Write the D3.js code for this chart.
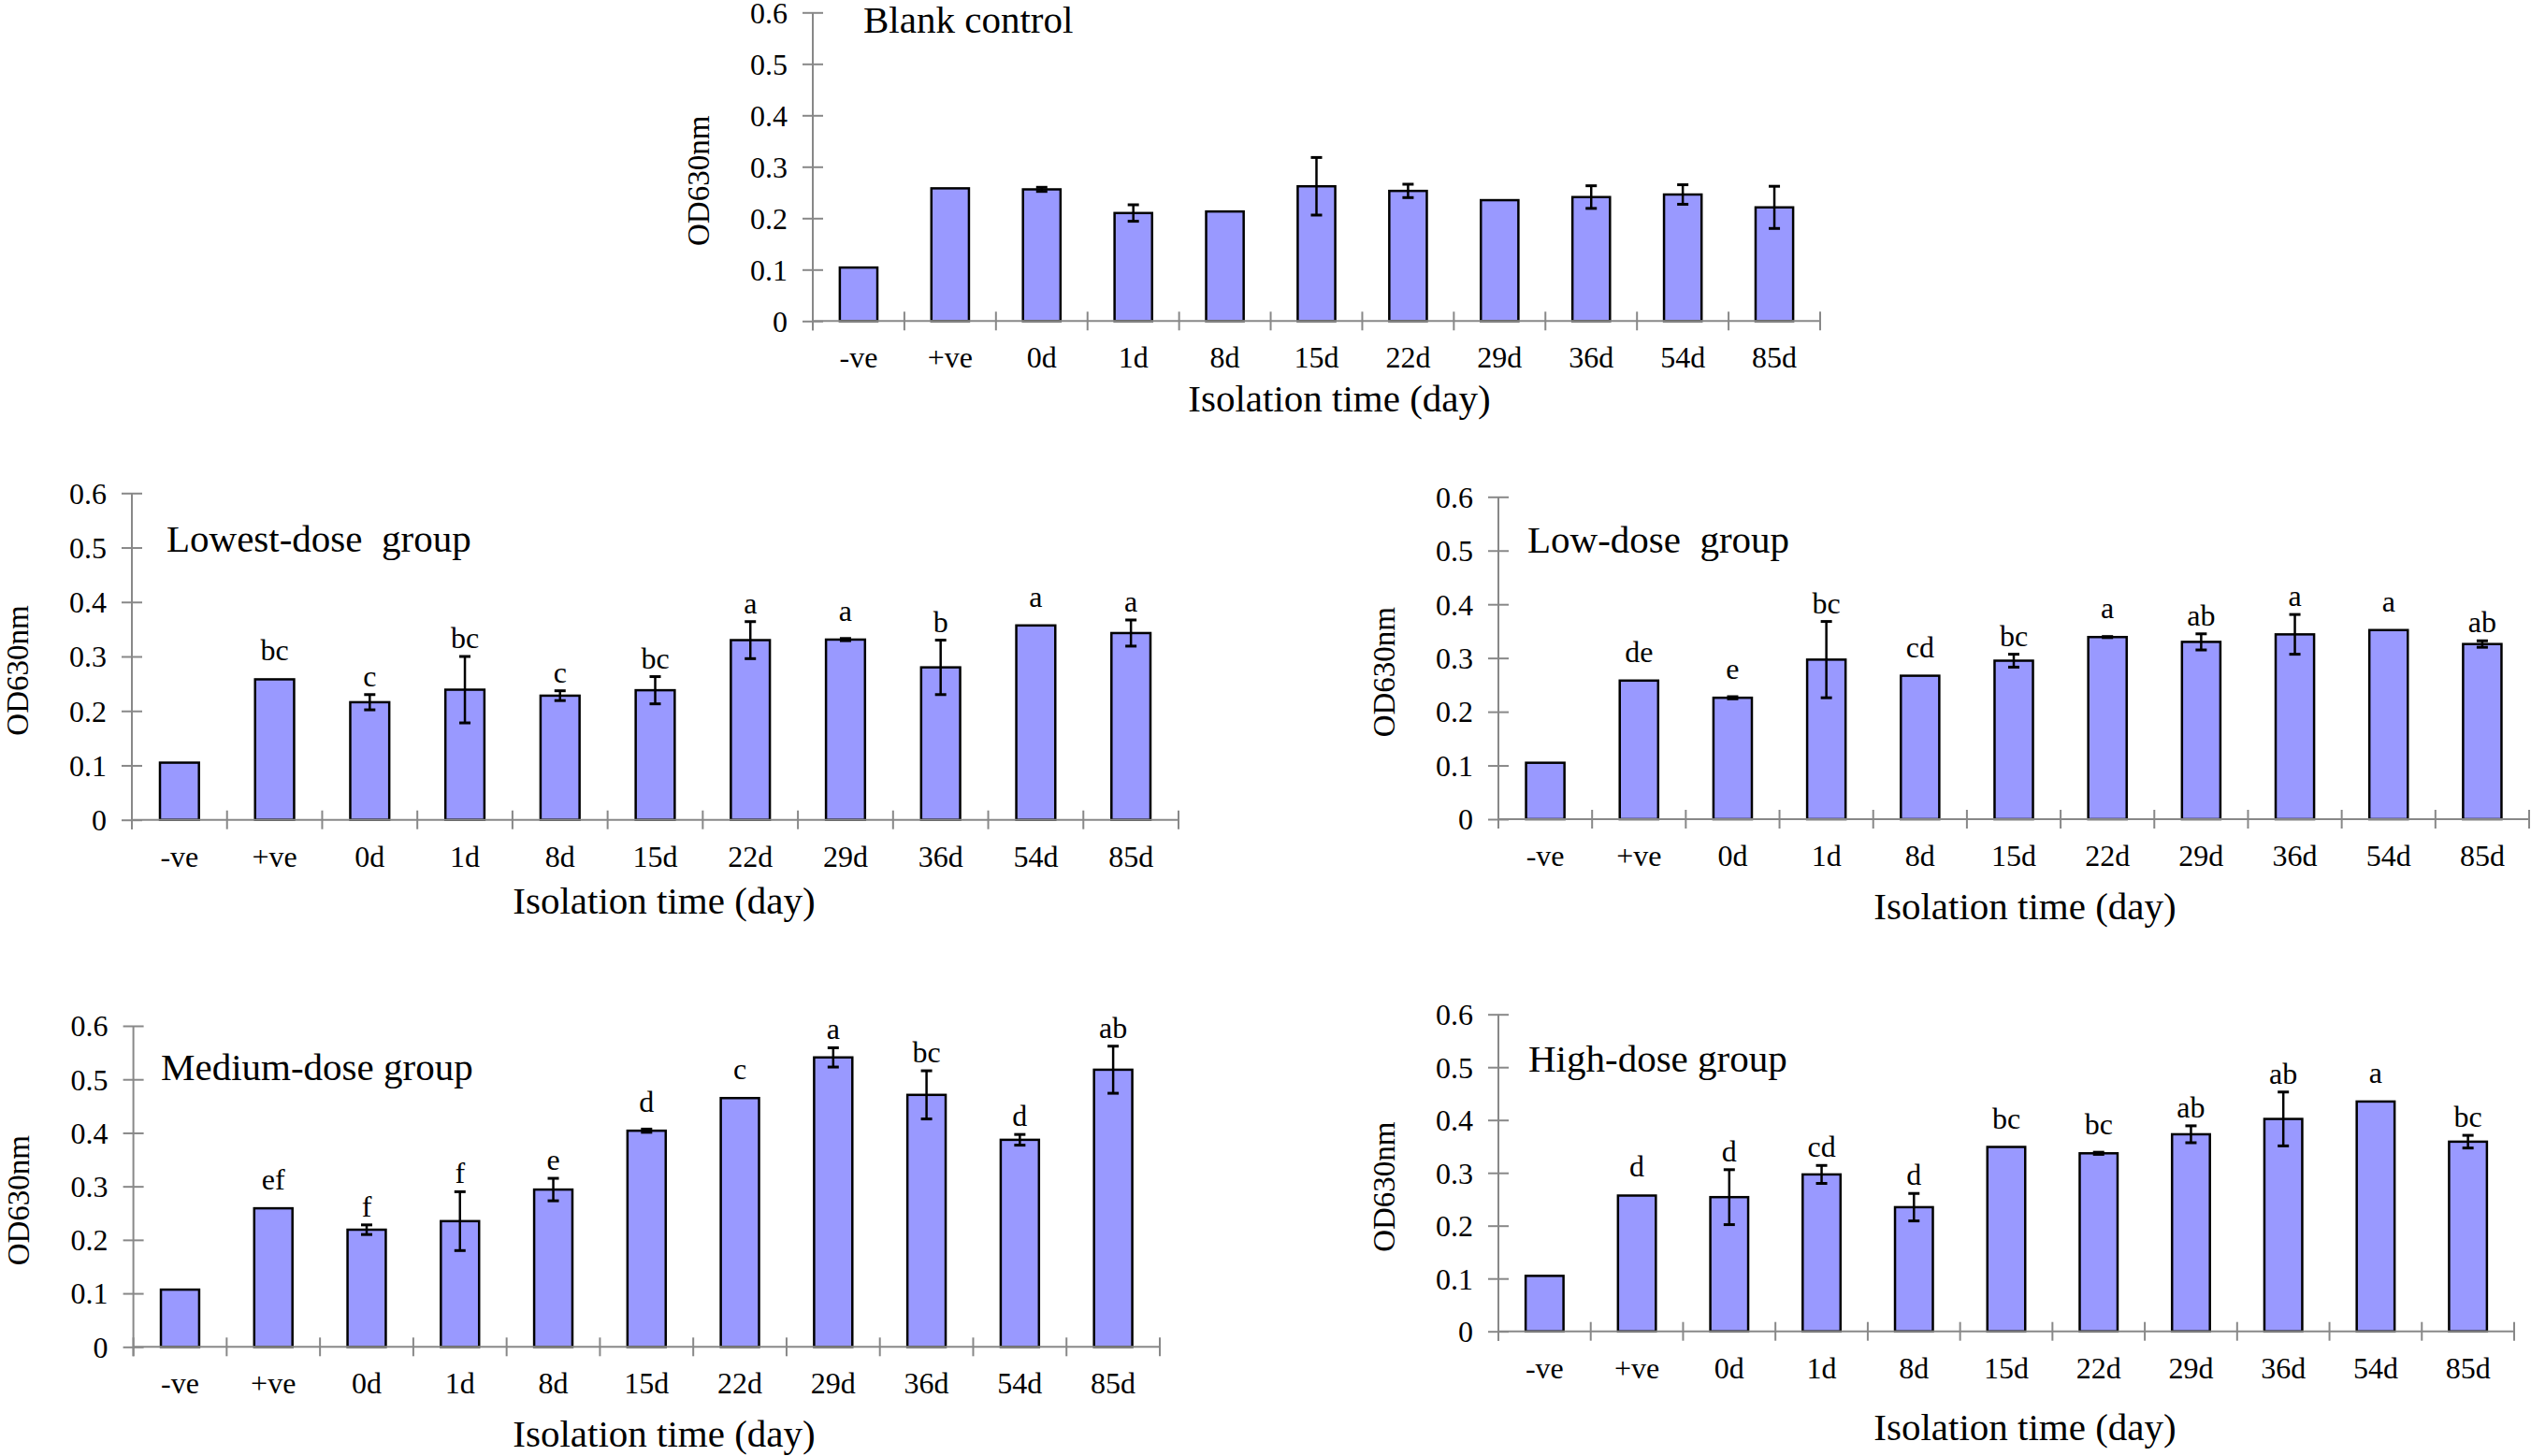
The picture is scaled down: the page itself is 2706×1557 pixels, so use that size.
<!DOCTYPE html>
<html>
<head>
<meta charset="utf-8">
<script src="https://cdn.jsdelivr.net/npm/d3@7"></script>
<style>
  html, body { margin: 0; padding: 0; background: #fff; }
  svg { display: block; }
  text { font-family: "Liberation Serif", "Times New Roman", serif; fill: #000; }
</style>
</head>
<body>
<svg id="chart" width="2706" height="1557"></svg>
<script>
// ---------------- DATA ----------------
const categories = ["-ve", "+ve", "0d", "1d", "8d", "15d", "22d", "29d", "36d", "54d", "85d"];
const yTicks = [0, 0.1, 0.2, 0.3, 0.4, 0.5, 0.6];
const yTickLabels = ["0", "0.1", "0.2", "0.3", "0.4", "0.5", "0.6"];

const blankMean = [0.104, 0.258, 0.256, 0.210, 0.213, 0.262, 0.253, 0.235, 0.241, 0.246, 0.221];
const blankErr  = [0, 0, 0.004, 0.016, 0, 0.056, 0.013, 0, 0.022, 0.019, 0.041];
const blankSig  = ["", "", "", "", "", "", "", "", "", "", ""];

const lowestMean = [0.105, 0.258, 0.216, 0.239, 0.228, 0.238, 0.330, 0.331, 0.280, 0.357, 0.343];
const lowestErr  = [0, 0, 0.014, 0.061, 0.009, 0.025, 0.034, 0.002, 0.050, 0, 0.024];
const lowestSig  = ["", "bc", "c", "bc", "c", "bc", "a", "a", "b", "a", "a"];

const lowMean = [0.105, 0.258, 0.226, 0.297, 0.267, 0.295, 0.339, 0.330, 0.344, 0.352, 0.326];
const lowErr  = [0, 0, 0.002, 0.071, 0, 0.012, 0.001, 0.015, 0.037, 0, 0.006];
const lowSig  = ["", "de", "e", "bc", "cd", "bc", "a", "ab", "a", "a", "ab"];

const mediumMean = [0.107, 0.259, 0.219, 0.235, 0.294, 0.404, 0.465, 0.541, 0.471, 0.387, 0.518];
const mediumErr  = [0, 0, 0.009, 0.055, 0.021, 0.003, 0, 0.018, 0.045, 0.010, 0.044];
const mediumSig  = ["", "ef", "f", "f", "e", "d", "c", "a", "bc", "d", "ab"];

const highMean = [0.105, 0.257, 0.254, 0.297, 0.235, 0.349, 0.337, 0.373, 0.402, 0.435, 0.359];
const highErr  = [0, 0, 0.052, 0.017, 0.026, 0, 0.002, 0.016, 0.051, 0, 0.012];
const highSig  = ["", "d", "d", "cd", "d", "bc", "bc", "ab", "ab", "a", "bc"];

const titles = ["Blank control", "Lowest-dose\u00A0 group", "Low-dose\u00A0 group", "Medium-dose group", "High-dose group"];
const xTitle = "Isolation time (day)";
const yTitle = "OD630nm";

// ---------------- LAYOUT ----------------
const layouts = [
  { x0: 869, x1: 1946, y0: 343.3, yTop: 13.3, tx: 923, ty: 35, xtx: 1432, xty: 97 },
  { x0: 141, x1: 1260, y0: 876.7, yTop: 527.3, tx: 178, ty: 590, xtx: 710, xty: 100 },
  { x0: 1602, x1: 2704, y0: 876, yTop: 531.3, tx: 1633, ty: 591, xtx: 2165, xty: 107 },
  { x0: 142.6, x1: 1240, y0: 1440.3, yTop: 1097, tx: 172, ty: 1155, xtx: 710, xty: 107 },
  { x0: 1602, x1: 2688, y0: 1423.7, yTop: 1084.7, tx: 1634, ty: 1146, xtx: 2165, xty: 116 }
];
const series = [
  [blankMean, blankErr, blankSig],
  [lowestMean, lowestErr, lowestSig],
  [lowMean, lowErr, lowSig],
  [mediumMean, mediumErr, mediumSig],
  [highMean, highErr, highSig]
];

const svg = d3.select("#chart");
const axisColor = "#888888";
const barFill = "#9999ff";
const smallFont = "32px";

layouts.forEach((L, i) => {
  const [mean, err, sig] = series[i];
  const data = categories.map((c, j) => ({ c, v: mean[j], e: err[j], s: sig[j] }));
  const x = d3.scaleBand().domain(categories).range([L.x0, L.x1]).paddingInner(0.59).paddingOuter(0.295);
  const y = d3.scaleLinear().domain([0, 0.6]).range([L.y0, L.yTop]);
  const step = x.step();
  const g = svg.append("g");

  // Y axis
  const yAxis = d3.axisLeft(y).tickValues(yTicks).tickFormat((d, k) => yTickLabels[k]).tickSizeOuter(0);
  const ya = g.append("g").attr("transform", `translate(${L.x0},0)`).call(yAxis);
  ya.select(".domain").remove();
  ya.selectAll(".tick line").attr("x1", -11).attr("x2", 11).attr("stroke", axisColor).attr("stroke-width", 2);
  ya.selectAll(".tick text").attr("x", -27).attr("dy", "0.34em")
    .style("font-size", smallFont).style("font-family", "Liberation Serif, Times New Roman, serif").attr("fill", "#000");
  g.append("line").attr("x1", L.x0).attr("x2", L.x0).attr("y1", y(0.6)).attr("y2", y(0) + 10)
    .attr("stroke", axisColor).attr("stroke-width", 2);

  // X axis ticks at band boundaries
  const bounds = categories.map(c => x(c) + x.bandwidth() / 2 - step / 2).concat([x(categories[categories.length - 1]) + x.bandwidth() / 2 + step / 2]);
  g.selectAll(".xtick").data(bounds).join("line")
    .attr("x1", d => d).attr("x2", d => d).attr("y1", y(0) - 10).attr("y2", y(0) + 10)
    .attr("stroke", axisColor).attr("stroke-width", 2);

  // Bars
  g.selectAll(".bar").data(data).join("rect")
    .attr("x", d => x(d.c)).attr("width", x.bandwidth())
    .attr("y", d => y(d.v)).attr("height", d => y(0) - y(d.v))
    .attr("fill", barFill).attr("stroke", "#000").attr("stroke-width", 2.5);

  // X axis line (drawn over bar bottoms)
  g.append("line").attr("x1", L.x0).attr("x2", L.x1).attr("y1", y(0)).attr("y2", y(0))
    .attr("stroke", axisColor).attr("stroke-width", 2);

  // Error bars
  const eb = data.filter(d => d.e > 0);
  const cx = d => x(d.c) + x.bandwidth() / 2;
  g.selectAll(".ebv").data(eb).join("line")
    .attr("x1", cx).attr("x2", cx).attr("y1", d => y(d.v + d.e)).attr("y2", d => y(d.v - d.e))
    .attr("stroke", "#000").attr("stroke-width", 2.5);
  g.selectAll(".ebt").data(eb).join("line")
    .attr("x1", d => cx(d) - 6).attr("x2", d => cx(d) + 6).attr("y1", d => y(d.v + d.e)).attr("y2", d => y(d.v + d.e))
    .attr("stroke", "#000").attr("stroke-width", 3);
  g.selectAll(".ebb").data(eb).join("line")
    .attr("x1", d => cx(d) - 6).attr("x2", d => cx(d) + 6).attr("y1", d => y(d.v - d.e)).attr("y2", d => y(d.v - d.e))
    .attr("stroke", "#000").attr("stroke-width", 3);

  // Significance letters
  g.selectAll(".sig").data(data.filter(d => d.s)).join("text")
    .attr("x", cx)
    .attr("y", d => d.e >= 0.005 ? y(d.v + d.e) - 9 : y(d.v) - 20)
    .attr("text-anchor", "middle").style("font-size", smallFont).text(d => d.s);

  // Category labels
  g.selectAll(".cat").data(categories).join("text")
    .attr("x", c => x(c) + x.bandwidth() / 2).attr("y", y(0) + 50)
    .attr("text-anchor", "middle").style("font-size", smallFont).text(c => c);

  // Axis titles
  g.append("text").attr("x", L.xtx).attr("y", y(0) + L.xty).attr("text-anchor", "middle")
    .style("font-size", "41px").text(xTitle);
  const ly = (y(0) + y(0.6)) / 2 + 15;
  g.append("text").attr("transform", `translate(${L.x0 - 123},${ly}) rotate(-90)`)
    .attr("text-anchor", "middle").attr("dy", "0.35em").style("font-size", "33px").text(yTitle);

  // Panel title
  g.append("text").attr("x", L.tx).attr("y", L.ty).style("font-size", "41px").text(titles[i]);
});
</script>
</body>
</html>
